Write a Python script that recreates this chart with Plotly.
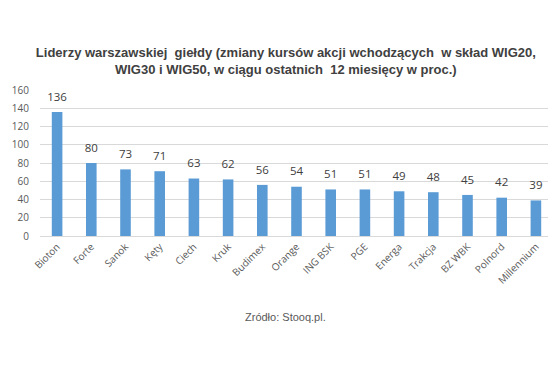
import plotly.graph_objects as go

companies = ["Bioton", "Forte", "Sanok", "Kęty", "Ciech", "Kruk", "Budimex", "Orange",
             "ING BSK", "PGE", "Energa", "Trakcja", "BZ WBK", "Polnord", "Millennium"]
changes = [136, 80, 73, 71, 63, 62, 56, 54, 51, 51, 49, 48, 45, 42, 39]
y_ticks = [0, 20, 40, 60, 80, 100, 120, 140, 160]

fig = go.Figure()
fig.add_trace(go.Bar(
    x=companies, y=changes,
    marker=dict(color="#5B9BD5", line=dict(width=0)),
    hoverinfo="x+y",
))
fig.add_trace(go.Scatter(
    x=companies, y=changes, mode="markers+text",
    marker=dict(size=12, opacity=0),
    text=[str(v) for v in changes], textposition="top center",
    textfont=dict(family="Open Sans, Liberation Sans, Arial", size=11.5, color="#404040"),
    cliponaxis=False, hoverinfo="skip",
))

fig.update_layout(
    width=548, height=368,
    margin=dict(l=32, r=3, t=82, b=140),
    paper_bgcolor="white", plot_bgcolor="white",
    bargap=0.69,
    showlegend=False,
    title=dict(
        text="Liderzy warszawskiej  giełdy (zmiany kursów akcji wchodzących  w skład WIG20,<br>WIG30 i WIG50, w ciągu ostatnich  12 miesięcy w proc.)",
        x=0.507, xanchor="center", y=0.867, yanchor="middle",
        font=dict(family="Liberation Sans, Arial", size=13, color="#404040", weight="bold"),
    ),
    annotations=[dict(
        text="Zródło: Stooq.pl.", xref="paper", yref="paper",
        x=0.478, y=-0.555, xanchor="center", yanchor="middle", showarrow=False,
        font=dict(family="Liberation Sans, Arial", size=11, color="#595959"),
    )],
)
fig.update_xaxes(
    range=[-0.5, len(companies) - 0.5],
    tickangle=-45, showgrid=False, showline=True, linecolor="#D9D9D9",
    tickfont=dict(family="Open Sans, Liberation Sans, Arial", size=10, color="#595959"),
    ticks="", automargin=False,
)
fig.update_yaxes(
    range=[0, 160], tickvals=y_ticks, showgrid=True, gridcolor="#D9D9D9",
    zeroline=False, showline=False, ticks="", automargin=False, ticklabelstandoff=10,
    tickfont=dict(family="Open Sans, Liberation Sans, Arial", size=10, color="#595959"),
)

fig.write_html("out.html")
